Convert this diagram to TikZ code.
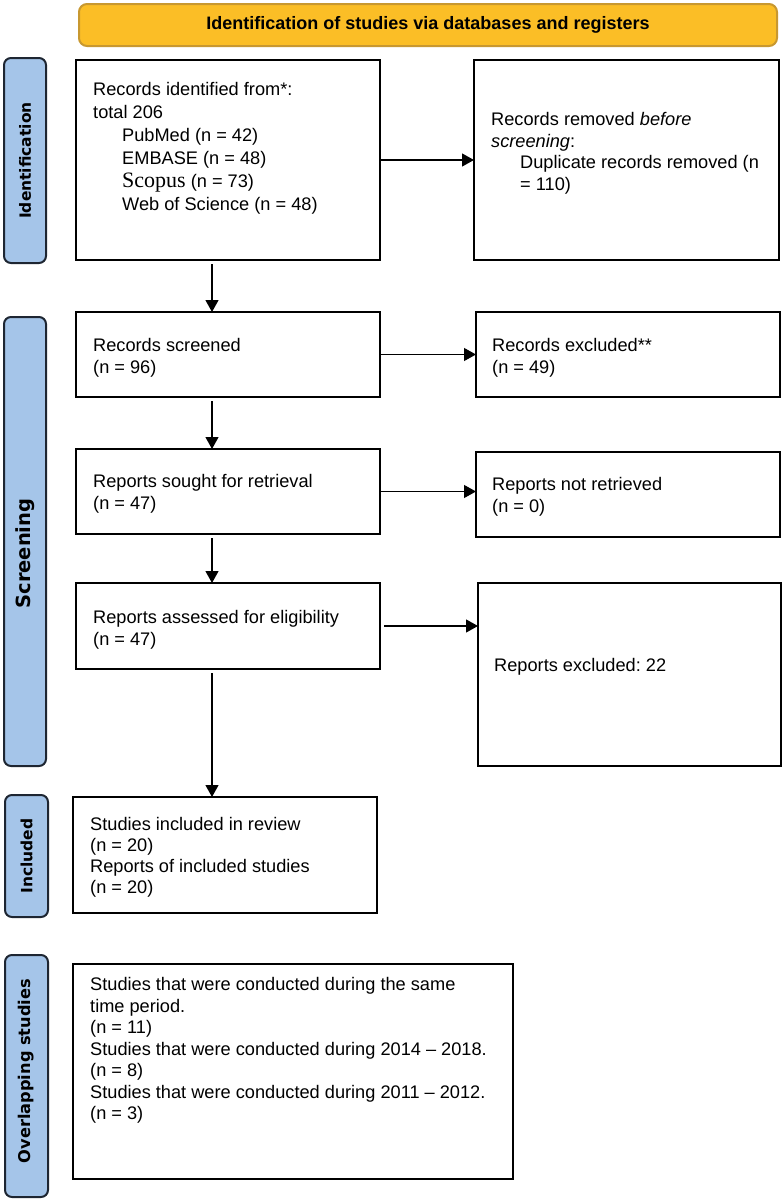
\documentclass[tikz,border=0pt]{standalone}
\usepackage{fontspec}
\setmainfont{Liberation Sans}
\newfontfamily\labelfont{DejaVu Sans}
\newfontfamily\scopusfont{Liberation Serif}
\usetikzlibrary{arrows.meta}
\definecolor{banfill}{RGB}{251,190,38}
\definecolor{bandraw}{RGB}{200,152,48}
\definecolor{labfill}{RGB}{165,197,233}
\definecolor{labdraw}{RGB}{30,38,50}
\frenchspacing
\begin{document}
\begin{tikzpicture}[x=1pt,y=-1pt,
 box/.style={draw=black, line width=2.2pt, inner sep=0pt, outer sep=0pt, anchor=north west, fill=white},
 txt/.style={anchor=north west, inner sep=0pt, align=left, font=\fontsize{18.2}{21.5}\selectfont},
 side/.style={draw=labdraw, fill=labfill, line width=2pt, rounded corners=7pt, inner sep=0pt, rotate=90, font=\labelfont\bfseries\fontsize{15.5}{18}\selectfont},
 banner/.style={draw=bandraw, fill=banfill, line width=2pt, rounded corners=8pt, inner sep=0pt, anchor=north west, font=\bfseries\fontsize{18}{21}\selectfont},
 arr/.style={line width=1.2pt, -{Triangle[length=12pt,width=13pt]}},
]
\useasboundingbox (0,0) rectangle (784,1200);

% banner
\node[banner, minimum width=698pt, minimum height=42pt] (ban) at (78,3) {Identification of studies via databases and registers};

% side labels
\node[side, minimum width=205pt, minimum height=42pt] (l1) at (25,160.5) {Identification};
\node[side, minimum width=449pt, minimum height=42pt, font=\labelfont\bfseries\fontsize{19.5}{22}\selectfont] (l2) at (25,541.5) {Screening\hspace*{24pt}};
\node[side, minimum width=122pt, minimum height=43pt] (l3) at (26.5,856) {Included};
\node[side, minimum width=242pt, minimum height=43pt, font=\labelfont\bfseries\fontsize{16.2}{19}\selectfont] (l4) at (26.5,1076) {\hspace*{10pt}Overlapping studies};

% boxes
\node[box, minimum width=304pt, minimum height=200pt] (b1) at (76,60) {};
\node[box, minimum width=305pt, minimum height=200pt] (b2) at (474,60) {};
\node[box, minimum width=304pt, minimum height=85pt] (b3) at (76,312) {};
\node[box, minimum width=304pt, minimum height=85pt] (b4) at (476,312) {};
\node[box, minimum width=304pt, minimum height=85pt] (b5) at (76,449) {};
\node[box, minimum width=304pt, minimum height=85pt] (b6) at (476,452) {};
\node[box, minimum width=304pt, minimum height=86pt] (b7) at (76,583) {};
\node[box, minimum width=303pt, minimum height=183pt] (b8) at (478,583) {};
\node[box, minimum width=304pt, minimum height=116pt] (b9) at (73,797) {};
\node[box, minimum width=440pt, minimum height=215pt] (b10) at (73,964) {};

% texts
\node[txt, font=\fontsize{18.2}{23}\selectfont] (t1) at (93,82.5) {Records identified from*:\\
total 206\\
\hspace*{29pt}PubMed (n = 42)\\
\hspace*{29pt}EMBASE (n = 48)\\
\hspace*{29pt}{\scopusfont\fontsize{22}{23}\selectfont Scopus} (n = 73)\\
\hspace*{29pt}Web of Science (n = 48)};
\node[txt] (t2) at (491,112.5) {Records removed \textit{before}\\
\textit{screening}:\\
\hspace*{29pt}Duplicate records removed (n\\
\hspace*{29pt}= 110)};
\node[txt] (t3) at (93,338.5) {Records screened\\(n = 96)};
\node[txt] (t4) at (492,338.5) {Records excluded**\\(n = 49)};
\node[txt] (t5) at (93,474.5) {Reports sought for retrieval\\(n = 47)};
\node[txt] (t6) at (492,477.5) {Reports not retrieved\\(n = 0)};
\node[txt] (t7) at (93,610.5) {Reports assessed for eligibility\\(n = 47)};
\node[txt] (t8) at (494,658.5) {Reports excluded: 22};
\node[txt, font=\fontsize{18.2}{21}\selectfont] (t9) at (90,817.5) {Studies included in review\\(n = 20)\\Reports of included studies\\(n = 20)};
\node[txt] (t10) at (90,977.5) {Studies that were conducted during the same\\
time period.\\
(n = 11)\\
Studies that were conducted during 2014 -- 2018.\\
(n = 8)\\
Studies that were conducted during 2011 -- 2012.\\
(n = 3)};

% connectors
\coordinate (col) at (212,0);
\draw[arr, shorten <=4pt] (b1.south -| col) -- (b3.north -| col);
\draw[arr, shorten <=4pt] (b3.south -| col) -- (b5.north -| col);
\draw[arr, shorten <=4pt] (b5.south -| col) -- (b7.north -| col);
\draw[arr, shorten <=4pt] (b7.south -| col) -- (b9.north -| col);
\draw[arr] (b1.east) -- (b2.west);
\draw[arr] (b3.east) -- (b4.west);
\draw[arr] (b5.east) -- (b5.east -| b6.west);
\draw[arr, shorten <=4pt] (b7.east) -- (b7.east -| b8.west);
\end{tikzpicture}
\end{document}
